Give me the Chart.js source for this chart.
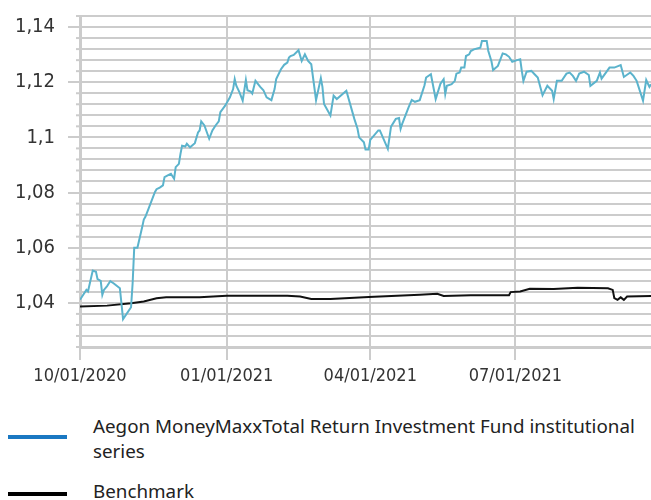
<!DOCTYPE html>
<html>
<head>
<meta charset="utf-8">
<script src="https://cdn.jsdelivr.net/npm/chart.js@4.4.0/dist/chart.umd.min.js"></script>
<style>
    body { margin: 0; background: #fff; }
    #wrap { position: relative; width: 651px; height: 500px; overflow: hidden; }
    #chartBox { position: absolute; left: 0; top: 0; width: 651px; height: 400px; }
    .legend-line { position: absolute; left: 8px; width: 59px; height: 4px; }
    .legend-text {
        position: absolute;
        left: 93px;
        width: 552px;
        font-family: "Noto Sans", sans-serif;
        font-size: 18.8px;
        line-height: 25px;
        color: #222;
    }
</style>
</head>
<body>
<div id="wrap">
    <div id="chartBox"><canvas id="chart1"></canvas></div>
    <div id="legend"></div>
</div>
<script>
// x positions are days counted from 10/01/2020
const fundDays = [
    0, 4, 5, 8, 10, 11, 13, 14, 15, 17, 19, 21, 25, 27, 32, 33, 34, 36, 39, 40,
    41, 43, 47, 48, 50, 52, 53, 55, 57, 59, 60, 62, 63, 64, 66, 67, 69, 72, 74, 75,
    76, 78, 81, 83, 85, 87, 88, 91, 94, 96, 97, 98, 100, 102, 104, 105, 107, 108, 110, 113,
    115, 117, 120, 122, 123, 126, 128, 130, 131, 132, 134, 137, 139, 141, 143, 145, 148, 151, 152, 153,
    157, 159, 161, 167, 172, 174, 175, 178, 179, 181, 182, 187, 188, 193, 195, 198, 200, 201, 202, 206,
    208, 210, 213, 216, 217, 220, 223, 226, 228, 229, 230, 233, 235, 236, 238, 239, 241, 242, 244, 245,
    247, 249, 251, 252, 255, 256, 258, 259, 262, 265, 267, 269, 271, 274, 276, 277, 278, 280, 283, 285,
    287, 290, 293, 296, 297, 299, 302, 305, 307, 309, 311, 313, 316, 319, 320, 324, 326, 327, 332, 335,
    339, 341, 345, 347, 349, 353, 355, 357, 358
];
const fundValues = [
    1.0411, 1.0447, 1.0441, 1.0517, 1.0513, 1.0486, 1.048, 1.0429, 1.0447, 1.0461,
    1.0479, 1.0471, 1.0453, 1.0341, 1.0384, 1.0471, 1.06, 1.06, 1.0675, 1.0702,
    1.0712, 1.0742, 1.0802, 1.0812, 1.0818, 1.0826, 1.0856, 1.0862, 1.0868, 1.085,
    1.0892, 1.0904, 1.094, 1.097, 1.0967, 1.0977, 1.0964, 1.0979, 1.1018, 1.1025,
    1.1058, 1.1043, 1.0995, 1.1025, 1.1043, 1.1058, 1.1091, 1.1115, 1.1145, 1.1175,
    1.1211, 1.1187, 1.1163, 1.1133, 1.1208, 1.1171, 1.1166, 1.1159, 1.1205, 1.1183,
    1.1171, 1.1145, 1.1135, 1.1175, 1.1211, 1.1247, 1.1263, 1.1271, 1.1289, 1.1295,
    1.1299, 1.1316, 1.1277, 1.1301, 1.1277, 1.1265, 1.1135, 1.1215, 1.1183, 1.1121,
    1.1079, 1.1151, 1.1139, 1.1169, 1.1067, 1.1031, 1.1, 1.0982, 1.0956, 1.0956,
    1.0991, 1.1025, 1.1025, 1.0958, 1.1039, 1.1067, 1.107, 1.1031, 1.1049, 1.1109,
    1.1136, 1.1129, 1.1135, 1.1189, 1.1217, 1.1229, 1.1139, 1.1195, 1.1211, 1.1157,
    1.1187, 1.1193, 1.1205, 1.1231, 1.1235, 1.1253, 1.1253, 1.1295, 1.1301, 1.1313,
    1.1319, 1.1322, 1.1325, 1.1349, 1.1349, 1.1313, 1.1275, 1.1244, 1.1259, 1.1304,
    1.1301, 1.1292, 1.1274, 1.128, 1.1283, 1.1241, 1.1205, 1.1238, 1.1241, 1.1229,
    1.1217, 1.1153, 1.1187, 1.1169, 1.1139, 1.1205, 1.1205, 1.1231, 1.1235, 1.1223,
    1.1205, 1.1231, 1.1238, 1.1226, 1.1187, 1.1205, 1.1235, 1.1213, 1.1253, 1.1253,
    1.1262, 1.1219, 1.1235, 1.1223, 1.1205, 1.1133, 1.1208, 1.1183, 1.1193
];
const benchDays = [
    0, 17, 32, 40, 48, 54, 75, 92, 130, 138, 145, 157, 181, 213, 224, 228,
    245, 269, 270, 276, 282, 297, 312, 331, 334, 335, 337, 339, 341, 343, 358
];
const benchValues = [
    1.0387, 1.039, 1.0399, 1.0405, 1.0417, 1.042, 1.042, 1.0426, 1.0426, 1.0423,
    1.0414, 1.0414, 1.0421, 1.0429, 1.0433, 1.0425, 1.0428, 1.0428, 1.0439, 1.0441,
    1.0451, 1.045, 1.0455, 1.0453, 1.0447, 1.0417, 1.0411, 1.042, 1.0411, 1.0423,
    1.0425
];
const seriesNames = [
    "Aegon MoneyMaxxTotal Return Investment Fund institutional series",
    "Benchmark",
];
const tickDays = [0, 92, 182, 273];
const tickLabels = ["10/01/2020", "01/01/2021", "04/01/2021", "07/01/2021"];
const yLabels = [1.04, 1.06, 1.08, 1.1, 1.12, 1.14];
const yMin = 1.024;
const yMax = 1.144;
const yStep = 0.004;

const fontFamily = "'DejaVu Sans Condensed', 'DejaVu Sans', sans-serif";
const gridGrey = "#cccccc";

const isMajor = (v) => yLabels.some((l) => Math.abs(l - v) < 1e-6);

// short tick marks for the unlabeled y grid lines
const minorTicks = {
    id: "minorTicks",
    afterDraw(chart) {
        const y = chart.scales.y;
        const ctx = chart.ctx;
        ctx.save();
        ctx.strokeStyle = gridGrey;
        ctx.lineWidth = 2;
        y.ticks.forEach((t) => {
            if (isMajor(t.value)) return;
            const py = y.getPixelForValue(t.value);
            ctx.beginPath();
            ctx.moveTo(y.right - 4, py);
            ctx.lineTo(y.right, py);
            ctx.stroke();
        });
        ctx.restore();
    },
};

const ctx = document.getElementById("chart1").getContext("2d");

const chart = new Chart(ctx, {
    type: "line",
    data: {
        datasets: [
            {
                label: seriesNames[0],
                data: fundDays.map((d, i) => ({ x: d, y: fundValues[i] })),
                borderColor: "#5bb3cc",
                legendColor: "#1a78c2",
                borderWidth: 2,
                pointRadius: 0,
                tension: 0,
            },
            {
                label: seriesNames[1],
                data: benchDays.map((d, i) => ({ x: d, y: benchValues[i] })),
                borderColor: "#111111",
                legendColor: "#000000",
                borderWidth: 2,
                pointRadius: 0,
                tension: 0,
            },
        ],
    },
    options: {
        responsive: true,
        maintainAspectRatio: false,
        animation: false,
        layout: { padding: { top: 16, right: 0, left: 0, bottom: 0 } },
        plugins: {
            legend: { display: false },
            tooltip: { enabled: false },
        },
        scales: {
            x: {
                type: "linear",
                min: 0,
                max: 358,
                afterBuildTicks: (scale) => {
                    scale.ticks = tickDays.map((d) => ({ value: d }));
                },
                afterFit: (scale) => {
                    scale.height = 53;
                    scale.paddingRight = 0;
                },
                ticks: {
                    color: "#333",
                    font: { family: fontFamily, size: 18 },
                    padding: 6,
                    maxRotation: 0,
                    autoSkip: false,
                    callback: (value) => tickLabels[tickDays.indexOf(value)],
                },
                grid: {
                    color: gridGrey,
                    lineWidth: 2,
                    tickLength: 13,
                },
                border: { color: gridGrey, width: 3 },
            },
            y: {
                min: yMin,
                max: yMax,
                afterBuildTicks: (scale) => {
                    const ticks = [];
                    for (let v = yMin; v <= yMax + 1e-9; v += yStep) {
                        ticks.push({ value: Math.round(v * 1000) / 1000 });
                    }
                    scale.ticks = ticks;
                },
                afterFit: (scale) => {
                    scale.width = 80;
                    scale.paddingTop = 0;
                    scale.paddingBottom = 0;
                },
                ticks: {
                    color: "#333",
                    font: { family: fontFamily, size: 20 },
                    padding: 13,
                    autoSkip: false,
                    callback: (value) =>
                        isMajor(value) ? String(value).replace(".", ",") : "",
                },
                grid: {
                    color: gridGrey,
                    lineWidth: 2,
                    tickLength: 12,
                    tickColor: (c) =>
                        c.tick && isMajor(c.tick.value) ? gridGrey : "rgba(0,0,0,0)",
                },
                border: { color: gridGrey, width: 3 },
            },
        },
    },
    plugins: [minorTicks],
});

// legend below the chart, text wraps like the original
const legendTops = [414, 479];
const swatchTops = [435, 492];
const $legend = document.getElementById("legend");
chart.data.datasets.forEach((ds, i) => {
    const $line = document.createElement("div");
    $line.className = "legend-line";
    $line.style.top = swatchTops[i] + "px";
    $line.style.background = ds.legendColor;
    const $text = document.createElement("div");
    $text.className = "legend-text";
    $text.style.top = legendTops[i] + "px";
    $text.innerText = ds.label;
    $legend.appendChild($line);
    $legend.appendChild($text);
});
</script>
</body>
</html>
